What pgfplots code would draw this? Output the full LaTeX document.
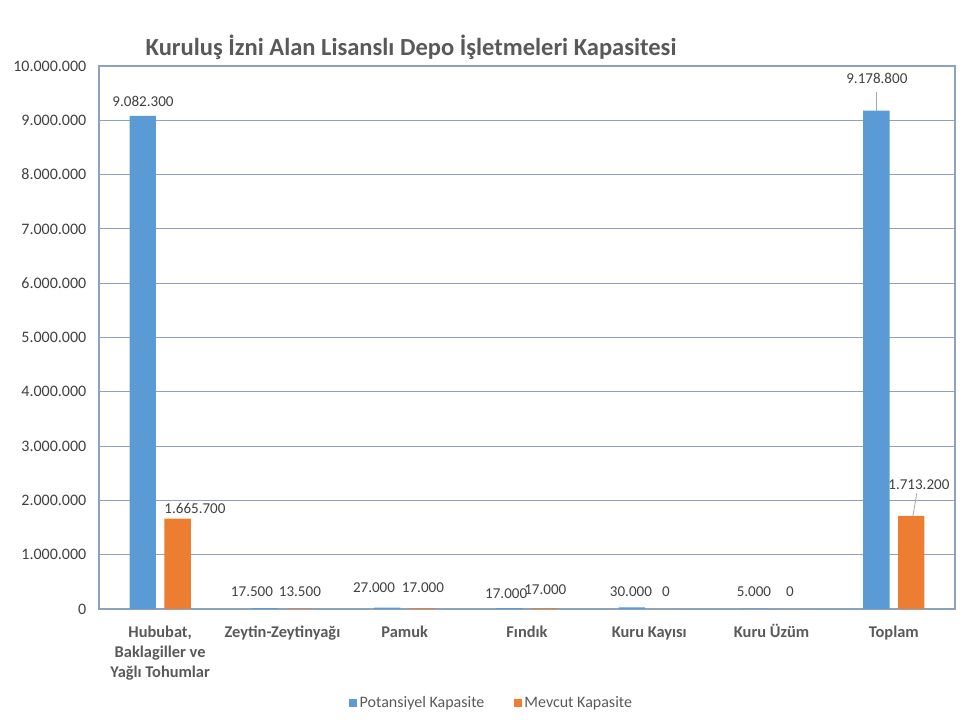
\documentclass[border=0pt]{standalone}
\usepackage{fontspec}
\setmainfont{Carlito}
\usepackage{pgfplots}
\pgfplotsset{compat=1.18}
\definecolor{cblue}{HTML}{5B9BD5}
\definecolor{corange}{HTML}{ED7D31}
\definecolor{gridc}{HTML}{8DA3BD}
\definecolor{txt}{HTML}{595959}
\definecolor{tickc}{HTML}{404040}
\newcommand{\ph}{\vphantom{Ü}}
\begin{document}
\begin{tikzpicture}
\useasboundingbox (0,0) rectangle (723pt,545.25pt);
\node[font=\bfseries\fontsize{18.4}{21}\selectfont, text=txt] at (308.25pt,510pt) {Kuruluş İzni Alan Lisanslı Depo İşletmeleri Kapasitesi};
\begin{axis}[
  at={(74.25pt,88.5pt)}, anchor=south west,
  scale only axis, width=642pt, height=407.25pt,
  xmin=-0.5, xmax=6.5, ymin=0, ymax=10000000,
  clip=false,
  xtick={0,...,6},
  xticklabels={{\ph Hububat,\\Baklagiller ve\\Yağlı Tohumlar},\ph Zeytin-Zeytinyağı,\ph Pamuk,\ph Fındık,\ph Kuru Kayısı,\ph Kuru Üzüm,\ph Toplam},
  xticklabel style={align=center, font=\bfseries\fontsize{12.3}{15}\selectfont, text=txt, yshift=-7.5pt},
  ytick={0,1000000,...,10000000},
  scaled y ticks=false,
  /pgf/number format/fixed, /pgf/number format/precision=0,
  /pgf/number format/1000 sep={.}, /pgf/number format/assume math mode=true,
  yticklabel style={font=\fontsize{12}{14}\selectfont, text=tickc, xshift=-6pt},
  major tick length=0pt,
  ymajorgrids, major grid style={gridc, line width=0.8pt},
  axis line style={gridc, line width=0.8pt},
  legend style={at={(0.459,-0.173)}, anchor=center, draw=none, fill=none, legend columns=2,
    font=\fontsize{12}{14}\selectfont, text=txt,
    /tikz/every even column/.append style={column sep=20pt}},
  legend image code/.code={\fill[#1] (0pt,-3pt) rectangle (6pt,3pt);},
]
\addplot[ybar, bar width=0.215, bar shift=-0.143, fill=cblue, draw=none]
  coordinates {(0,9082300) (1,17500) (2,27000) (3,17000) (4,30000) (5,5000) (6,9178800)};
\addlegendentry{Potansiyel Kapasite}
\addplot[ybar, bar width=0.215, bar shift=0.143, fill=corange, draw=none]
  coordinates {(0,1665700) (1,13500) (2,17000) (3,17000) (4,0) (5,0) (6,1713200)};
\addlegendentry{Mevcut Kapasite}
\begin{scope}[every node/.style={font=\fontsize{11.3}{13}\selectfont, text=tickc}]
\node at (axis cs:-0.140,9355000) {9.082.300};
\node at (axis cs:0.285,1860000) {1.665.700};
\node at (axis cs:0.751,313000) {17.500};
\node at (axis cs:1.143,313000) {13.500};
\node at (axis cs:1.749,387000) {27.000};
\node at (axis cs:2.149,387000) {17.000};
\node at (axis cs:2.830,276000) {17.000};
\node at (axis cs:3.150,350000) {17.000};
\node at (axis cs:3.850,313000) {30.000};
\node at (axis cs:4.136,313000) {0};
\node at (axis cs:4.856,313000) {5.000};
\node at (axis cs:5.150,313000) {0};
\node at (axis cs:5.861,9779000) {9.178.800};
\node at (axis cs:6.205,2284000) {1.713.200};
\end{scope}
\draw[gray!70, line width=0.6pt] (axis cs:5.861,9521000) -- (axis cs:5.861,9171000);
\draw[gray!70, line width=0.6pt] (axis cs:6.188,2136000) -- (axis cs:6.156,1713000);
\end{axis}
\end{tikzpicture}
\end{document}
